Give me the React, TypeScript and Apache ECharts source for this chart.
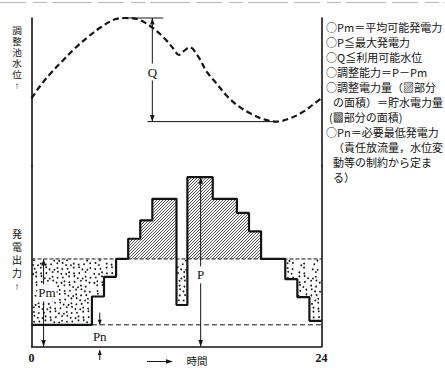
import React, { useEffect, useRef } from "react";
import * as echarts from "echarts";

// Time axis (hours of the day)
const hourMin = 0;
const hourMax = 24;

// Regulating-pond water level through the day
const levelHours = [0, 0.7, 1.5, 2.5, 3.6, 4.7, 5.8, 6.9, 7.7, 8.8, 9.9, 11.0, 11.7, 12.2, 12.6, 13.1, 13.8, 14.5, 15.3, 16.1, 17.0, 18.1, 19.2, 20.3, 21.4, 22.5, 23.6, 24];
const levelValues = [45.7, 53.9, 61.8, 70.5, 79.5, 87.4, 94.1, 99.1, 100, 99.1, 94.1, 86.3, 79.7, 75, 77.6, 80.2, 73.9, 63.7, 55.9, 48, 41.2, 35.6, 31.6, 30, 32.2, 36.7, 43.4, 45.7];

// Q: usable pond level range
const qTop = 100;
const qBottom = 30;

// Generated output, stepwise: each level holds from its start hour until the next one
const stepHours = [0, 5, 6, 7, 8, 9, 10, 12, 12.9, 15, 17, 18, 19, 21, 22, 23];
const outputLevels = [12, 27.7, 38.6, 48.5, 59.7, 69.9, 81.8, 23, 93.8, 81.8, 74, 63.8, 48.5, 37.3, 27.3, 14.2];

const PM = 48.5; // average available output
const PN = 12; // minimum required output
const pMax = Math.max(...outputLevels);

// Vertical axis titles, one character per row
const levelTitle = ["調", "整", "池", "水", "位", "↑"];
const outputTitle = ["発", "電", "出", "力", "↑"];

// Explanatory notes beside the chart
const notes = [
  "○Pm＝平均可能発電力",
  "○P≦最大発電力",
  "○Q≦利用可能水位",
  "○調整能力＝P－Pm",
  "○調整電力量（▨部分",
  "の面積）＝貯水電力量",
  "(▩部分の面積)",
  "○Pn＝必要最低発電力",
  "（責任放流量，水位変",
  "動等の制約から定ま",
  "る）",
];

const INK = "#141414";
const SERIF = '"Liberation Serif", "DejaVu Serif", serif';
const CJK = '"Noto Sans CJK JP", sans-serif';
// compact metrics for the stacked vertical titles; kanji fall back to Noto CJK
const TITLE_FONT = '"Liberation Sans", "Noto Sans CJK JP", sans-serif';

type Pt = number[];

const seg = (p: Pt, q: Pt, width = 1) => ({
  type: "line",
  shape: { x1: p[0], y1: p[1], x2: q[0], y2: q[1] },
  style: { stroke: INK, lineWidth: width, fill: "none" },
});

const head = (tip: Pt, up: boolean, w = 2.3, h = 6.5) => ({
  type: "polygon",
  shape: {
    points: up
      ? [[tip[0], tip[1]], [tip[0] - w, tip[1] + h], [tip[0] + w, tip[1] + h]]
      : [[tip[0], tip[1]], [tip[0] - w, tip[1] - h], [tip[0] + w, tip[1] - h]],
  },
  style: { fill: INK },
});

const label = (text: string, p: Pt, size = 13) => ({
  type: "text",
  style: {
    text,
    x: p[0],
    y: p[1],
    fill: INK,
    font: `${size}px ${SERIF}`,
    align: "center",
    textAlign: "center",
    verticalAlign: "middle",
    textVerticalAlign: "middle",
    backgroundColor: "#fff",
    padding: [2, 1],
  },
});

const textEl = (text: string, x: number, y: number, size: number, align = "center", family = CJK) => ({
  type: "text",
  x,
  y,
  style: {
    text,
    font: `${size}px ${family}`,
    fill: INK,
    align,
    textAlign: align,
    verticalAlign: "middle",
    textVerticalAlign: "middle",
  },
});

// stipple offsets, cycled over the dot lattice
const jx = [0.9, -1.2, 0.4, 1.5, -0.6, -1.4, 0.2];
const jy = [-0.8, 0.6, 1.3, -1.1, 0.3, -0.4, 1.0];

export default function App() {
  const ref = useRef<HTMLDivElement>(null);

  useEffect(() => {
    if (!ref.current) return;
    const chart = echarts.init(ref.current, undefined, { renderer: "svg" });

    const levelData = levelHours.map((h, i) => [h, levelValues[i]]);
    const stepData = stepHours.map((h, i) => [h, outputLevels[i]]);
    stepData.push([hourMax, outputLevels[outputLevels.length - 1]]);
    const fillData = stepHours.map((h, i) => [
      h,
      i + 1 < stepHours.length ? stepHours[i + 1] : hourMax,
      outputLevels[i],
    ]);

    const hiddenAxis = {
      axisLine: { show: false },
      axisTick: { show: false },
      axisLabel: { show: false },
      splitLine: { show: false },
    };
    const frameAxis = (gridIndex: number, position: string) => ({
      type: "value",
      gridIndex,
      position,
      min: 0,
      max: 100,
      axisLine: { show: true, onZero: false, lineStyle: { color: INK, width: 1.6 } },
      axisTick: { show: false },
      axisLabel: { show: false },
      splitLine: { show: false },
    });

    chart.setOption({
      animation: false,
      backgroundColor: "#fff",
      grid: [
        { left: 31.5, width: 290, top: 18, height: 148 },
        { left: 31.5, width: 290, top: 166, height: 180.5 },
      ],
      xAxis: [
        { type: "value", gridIndex: 0, min: hourMin, max: hourMax, ...hiddenAxis },
        {
          type: "value",
          gridIndex: 1,
          min: hourMin,
          max: hourMax,
          interval: 24,
          axisLine: { show: true, onZero: false, lineStyle: { color: INK, width: 1.6 } },
          axisTick: { show: false },
          splitLine: { show: false },
          axisLabel: { color: INK, fontFamily: SERIF, fontSize: 12, fontWeight: "bold", margin: 5 },
        },
      ],
      yAxis: [frameAxis(0, "left"), frameAxis(0, "right"), frameAxis(1, "left"), frameAxis(1, "right")],
      series: [
        {
          type: "line",
          xAxisIndex: 0,
          yAxisIndex: 0,
          data: levelData,
          smooth: 0.35,
          symbol: "none",
          lineStyle: { color: INK, width: 2.2, type: [6, 3.5] },
          z: 3,
        },
        {
          type: "custom",
          xAxisIndex: 0,
          yAxisIndex: 0,
          data: [[0, 0]],
          z: 4,
          renderItem: (_p: any, api: any) => {
            const c = (h: number, v: number) => api.coord([h, v]);
            const top = c(10, qTop);
            const bot = c(10, qBottom);
            return {
              type: "group",
              children: [
                seg(c(7.7, qTop), c(10.9, qTop)),
                seg(c(9.6, qBottom), c(20.3, qBottom)),
                seg(top, bot),
                head(top, true),
                head(bot, false),
                label("Q", c(10, 63.5)),
              ],
            };
          },
        },
        {
          type: "custom",
          xAxisIndex: 1,
          yAxisIndex: 2,
          data: fillData,
          dimensions: ["from", "to", "level"],
          encode: { x: [0, 1], y: 2 },
          z: 1,
          renderItem: (_p: any, api: any) => {
            const t0 = api.value(0) as number;
            const t1 = api.value(1) as number;
            const v = api.value(2) as number;
            if (Math.abs(v - PM) < 0.01) return { type: "group", children: [] };
            const a = api.coord([t0, Math.max(v, PM)]);
            const b = api.coord([t1, Math.min(v, PM)]);
            const x0 = a[0], y0 = a[1], x1 = b[0], y1 = b[1];
            if (v > PM) {
              // diagonal hatching for the output above Pm
              const s = 3.0;
              let d = "";
              for (let c = Math.ceil((x0 + y0) / s) * s; c < x1 + y1; c += s) {
                const xa = Math.max(x0, c - y1);
                const xb = Math.min(x1, c - y0);
                if (xb - xa > 0.3) {
                  d += `M${xa.toFixed(2)} ${(c - xa).toFixed(2)}L${xb.toFixed(2)} ${(c - xb).toFixed(2)}`;
                }
              }
              return {
                type: "path",
                shape: { pathData: d || "M0 0" },
                style: { fill: "none", stroke: "#262626", lineWidth: 0.8 },
              };
            }
            // stipple for the stored energy below Pm
            const kids: any[] = [];
            const sx = 4.7;
            const sy = 4.4;
            for (let j = Math.floor(y0 / sy) - 1; j * sy <= y1 + sy; j++) {
              for (let i = Math.floor(x0 / sx) - 1; i * sx <= x1 + sx; i++) {
                const k = (((i * 3 + j * 5) % 7) + 7) % 7;
                const px = i * sx + (Math.abs(j) % 2) * 2.35 + jx[k];
                const py = j * sy + jy[k];
                if (px > x0 + 1.2 && px < x1 - 1.2 && py > y0 + 1.2 && py < y1 - 1.2) {
                  kids.push({ type: "circle", shape: { cx: px, cy: py, r: 0.9 }, style: { fill: "#1a1a1a" } });
                }
              }
            }
            return { type: "group", children: kids };
          },
        },
        {
          type: "line",
          xAxisIndex: 1,
          yAxisIndex: 2,
          data: [[hourMin, PM], [hourMax, PM]],
          symbol: "none",
          lineStyle: { color: INK, width: 1, type: [4, 2] },
          z: 2,
        },
        {
          type: "line",
          xAxisIndex: 1,
          yAxisIndex: 2,
          data: [[5, PN], [hourMax, PN]],
          symbol: "none",
          lineStyle: { color: INK, width: 1, type: [5, 3] },
          z: 2,
        },
        {
          type: "line",
          xAxisIndex: 1,
          yAxisIndex: 2,
          data: stepData,
          step: "end",
          symbol: "none",
          lineStyle: { color: INK, width: 2.2 },
          z: 3,
        },
        {
          type: "custom",
          xAxisIndex: 1,
          yAxisIndex: 2,
          data: [[0, 0]],
          z: 5,
          clip: false,
          renderItem: (_p: any, api: any) => {
            const c = (h: number, v: number) => api.coord([h, v]);
            const pmTop = c(1, PM);
            const pmBot = c(1, 0);
            const pTop = c(14, pMax);
            const pBot = c(14, 0);
            const pnTip = c(5.65, PN);
            const upTip = c(5.65, -2);
            return {
              type: "group",
              children: [
                seg(pmTop, pmBot),
                head(pmTop, true),
                head(pmBot, false),
                label("Pm", c(1.28, 29.7)),
                seg(pTop, pBot),
                head(pTop, true),
                head(pBot, false),
                label("P", c(14, 39.7)),
                seg(c(5.65, 18.8), pnTip),
                head(pnTip, false, 2, 5),
                seg(c(5.65, -7.5), upTip),
                head(upTip, true, 2, 5),
                label("Pn", c(5.65, 5.3)),
              ],
            };
          },
        },
      ],
      graphic: [
        {
          type: "line",
          shape: { x1: 0, y1: 2.5, x2: 445, y2: 2.5 },
          style: { stroke: "#b8b8b8", lineWidth: 1, lineDash: [26, 7, 14, 5, 40, 6] },
        },
        ...levelTitle.map((ch, i) => textEl(ch, 17, 30 + i * 11.1, 9.6, "center", TITLE_FONT)),
        ...outputTitle.map((ch, i) => textEl(ch, 17, 234.5 + i * 13, 10, "center", TITLE_FONT)),
        {
          type: "line",
          shape: { x1: 147, y1: 361.5, x2: 167, y2: 361.5 },
          style: { stroke: INK, lineWidth: 1 },
        },
        {
          type: "polygon",
          shape: { points: [[173, 361.5], [166, 359.3], [166, 363.7]] },
          style: { fill: INK },
        },
        textEl("時間", 197, 360.5, 10.5),
        ...notes.map((t, i) =>
          textEl(t, t.startsWith("○") ? 326 : t.startsWith("(") ? 329 : 333, 27 + i * 15, 11, "left")
        ),
      ],
    });

    return () => chart.dispose();
  }, []);

  return (
    <div
      ref={ref}
      style={{ position: "fixed", left: 0, top: 0, width: 445, height: 368, background: "#fff" }}
    />
  );
}
